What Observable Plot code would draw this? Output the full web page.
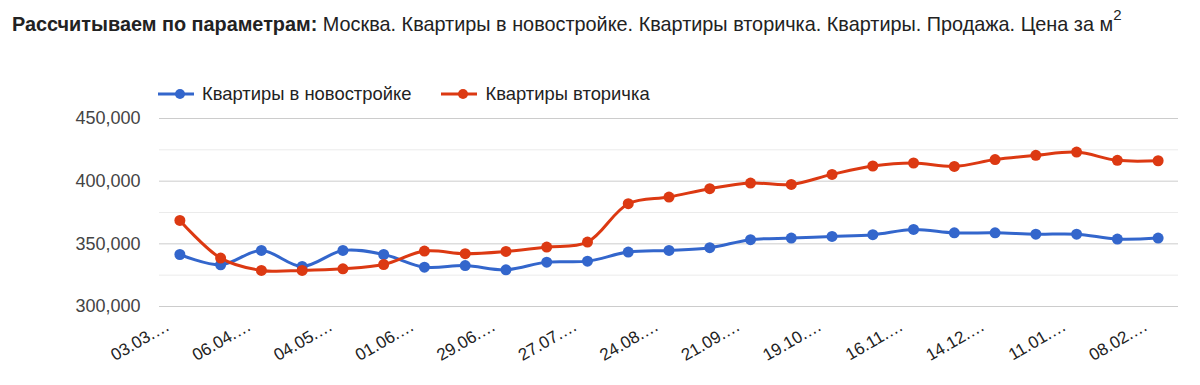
<!DOCTYPE html>
<html>
<head>
<meta charset="utf-8">
<script src="https://cdn.jsdelivr.net/npm/d3@7"></script>
<script src="https://cdn.jsdelivr.net/npm/@observablehq/plot@0.6"></script>
<style>
  body { margin: 0; background: #fff; font-family: "Liberation Sans", Arial, sans-serif; }
  #wrap { position: relative; width: 1200px; height: 385px; overflow: hidden; }
  #title { position: absolute; left: 12px; top: 13px; font-size: 19.85px; color: #222; white-space: nowrap; }
  #title b { font-weight: bold; }
  #title sup { font-size: 15px; position: relative; top: -3px; line-height: 0; }
  #legend { position: absolute; left: 158px; top: 80px; height: 28px; display: flex; align-items: center; font-size: 18.4px; color: #222; }
  .li { display: flex; align-items: center; margin-right: 30px; }
  .li svg { margin-right: 8px; }
  #chart { position: absolute; left: 0; top: 108px; }
</style>
</head>
<body>
<div id="wrap">
  <div id="title"></div>
  <div id="legend"></div>
  <div id="chart"></div>
</div>
<script>
const titleBold = "Рассчитываем по параметрам:";
const titleRest = " Москва. Квартиры в новостройке. Квартиры вторичка. Квартиры. Продажа. Цена за м";
const seriesNames = ["Квартиры в новостройке", "Квартиры вторичка"];
const seriesColors = ["#3366cc", "#dc3912"];

const dates = ["03.03.2019","17.03.2019","06.04.2019","20.04.2019","04.05.2019","18.05.2019","01.06.2019","15.06.2019","29.06.2019","13.07.2019","27.07.2019","10.08.2019","24.08.2019","07.09.2019","21.09.2019","05.10.2019","19.10.2019","02.11.2019","16.11.2019","30.11.2019","14.12.2019","28.12.2019","11.01.2020","25.01.2020","08.02.2020"];
const xTickLabels = ["03.03.…","06.04.…","04.05.…","01.06.…","29.06.…","27.07.…","24.08.…","21.09.…","19.10.…","16.11.…","14.12.…","11.01.…","08.02.…"];

const novostroyka = [341500,333300,344700,332000,344700,341500,331400,332700,329300,335400,336200,343400,344700,346900,353300,354600,355900,357300,361500,358800,358800,357700,357700,353800,354600];
const vtorichka = [368700,338600,328800,328800,330100,333500,344200,342100,343900,347400,351400,382000,387300,394000,398500,397400,405400,412100,414500,411800,417200,420600,423200,416600,416300];

const yTicks = [300000, 350000, 400000, 450000];
const yMinor = [325000, 375000, 425000];

document.getElementById("title").innerHTML = "<b>" + titleBold + "</b>" + titleRest + "<sup>2</sup>";
const leg = document.getElementById("legend");
seriesNames.forEach((n, i) => {
  const d = document.createElement("div");
  d.className = "li";
  d.innerHTML = `<svg width="36" height="12"><line x1="0" y1="6" x2="36" y2="6" stroke="${seriesColors[i]}" stroke-width="3"/><circle cx="22" cy="6" r="5" fill="${seriesColors[i]}"/></svg><span>${n}</span>`;
  leg.appendChild(d);
});

const rows = [];
dates.forEach((d, i) => {
  rows.push({date: d, value: novostroyka[i], series: seriesNames[0]});
  rows.push({date: d, value: vtorichka[i], series: seriesNames[1]});
});
const tickDates = dates.filter((d, i) => i % 2 === 0);

const plot = Plot.plot({
  width: 1200,
  height: 277,
  marginLeft: 159,
  marginRight: 22,
  marginTop: 10,
  marginBottom: 79,
  style: { fontFamily: "'Liberation Sans', Arial, sans-serif", fontSize: "17px", color: "#444", background: "#fff" },
  x: { type: "point", domain: dates, padding: 0.5, round: false, label: null },
  y: { domain: [300000, 450000], label: null },
  color: { domain: seriesNames, range: seriesColors },
  marks: [
    Plot.ruleY(yMinor, { stroke: "#ebebeb", strokeWidth: 1 }),
    Plot.ruleY(yTicks, { stroke: "#cccccc", strokeWidth: 1 }),
    Plot.axisY({ ticks: yTicks, tickSize: 0, tickPadding: 19, tickFormat: d3.format(","), label: null, fontSize: 18, fill: "#444" }),
    Plot.axisX({ ticks: tickDates, tickSize: 0, tickPadding: 12, tickRotate: -30, dx: -12, dy: 6, tickFormat: (d) => xTickLabels[tickDates.indexOf(d)], label: null, fontSize: 17, fill: "#222" }),
    Plot.line(rows, { x: "date", y: "value", stroke: "series", z: "series", strokeWidth: 3, curve: "catmull-rom" }),
    Plot.dot(rows, { x: "date", y: "value", fill: "series", r: 5.5 })
  ]
});
document.getElementById("chart").appendChild(plot);
</script>
</body>
</html>
